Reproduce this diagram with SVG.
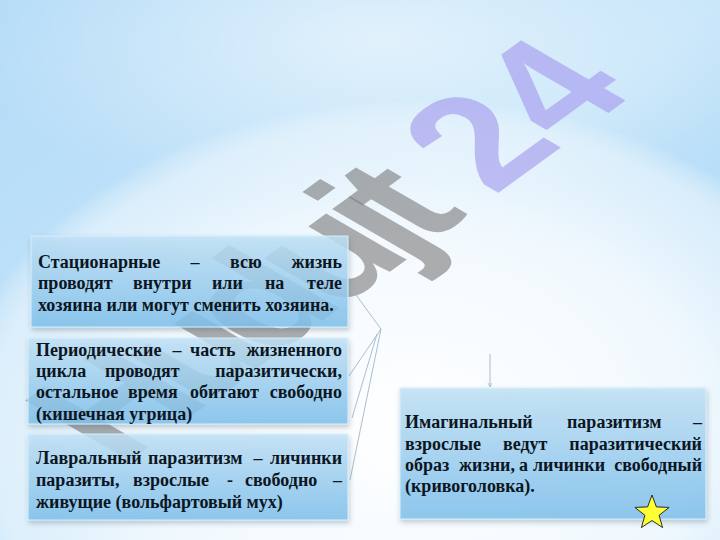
<svg xmlns="http://www.w3.org/2000/svg" width="720" height="540" viewBox="0 0 720 540">
<defs>
<linearGradient id="bg" x1="0" y1="0" x2="1" y2="1">
<stop offset="0" stop-color="#b3dbf7"/>
<stop offset="0.5" stop-color="#c4e4f9"/>
<stop offset="1" stop-color="#9fd2f5"/>
</linearGradient>
<radialGradient id="glow" cx="0.5" cy="0.5" r="0.5">
<stop offset="0" stop-color="#ffffff" stop-opacity="1"/>
<stop offset="0.6" stop-color="#f8fcff" stop-opacity="0.9"/>
<stop offset="0.92" stop-color="#eef7fd" stop-opacity="0.6"/>
<stop offset="1" stop-color="#ffffff" stop-opacity="0"/>
</radialGradient>
<radialGradient id="topglow" cx="0.5" cy="0.5" r="0.5">
<stop offset="0" stop-color="#ffffff" stop-opacity="0.55"/>
<stop offset="1" stop-color="#ffffff" stop-opacity="0"/>
</radialGradient>
<linearGradient id="box" x1="0" y1="0" x2="0" y2="1">
<stop offset="0" stop-color="#c2e3f8"/>
<stop offset="1" stop-color="#7fc2ee"/>
</linearGradient>
<filter id="sh" x="-10%" y="-10%" width="125%" height="130%">
<feDropShadow dx="1" dy="3" stdDeviation="2.5" flood-color="#3a5a70" flood-opacity="0.35"/>
</filter>
<marker id="ah" viewBox="0 0 6 6" refX="5" refY="3" markerWidth="6" markerHeight="6" orient="auto">
<path d="M0,0.5 L5,3 L0,5.5" fill="none" stroke="#9fb6c6" stroke-width="0.8"/>
</marker>
<style>
.bx{fill:url(#box);fill-opacity:0.82;stroke:#d6eefc;stroke-width:1;filter:url(#sh)}
.t{font-family:"Liberation Serif","Times New Roman",serif;font-weight:bold;font-size:18px;fill:#0b1622}
.e{text-anchor:end}
.m{text-anchor:middle}
.cn{fill:none;stroke:#9fb8c8;stroke-width:0.9}
.wm{font-family:"Liberation Sans",Arial,sans-serif;font-weight:bold;font-size:160px}
</style>
</defs>
<rect width="720" height="540" fill="url(#bg)"/>
<ellipse cx="380" cy="40" rx="420" ry="170" fill="url(#topglow)"/>
<ellipse cx="420" cy="430" rx="470" ry="330" fill="url(#glow)"/>

<g id="watermark" transform="translate(121,467) rotate(-36) skewX(24)">
<text class="wm" x="0" y="0"><tspan fill="#7c7c7c" fill-opacity="0.62" letter-spacing="-15">Hudujt</tspan><tspan fill="#a9a2f0" fill-opacity="0.7"> 24</tspan></text>
</g>

<g id="connectors">
<line class="cn" x1="348" y1="284" x2="381" y2="329"/>
<line class="cn" x1="381" y1="329" x2="349" y2="376"/>
<line class="cn" x1="377" y1="334" x2="352" y2="418"/>
<line class="cn" x1="381" y1="329" x2="350" y2="480"/>
<line class="cn" x1="490" y1="354" x2="490" y2="387" marker-end="url(#ah)"/>
</g>

<g id="node-stationary">
<rect class="bx" x="31" y="236" width="317" height="91"/>
<text class="t" y="268"><tspan x="38">Стационарные</tspan><tspan x="195" class="m">–</tspan><tspan x="230">всю</tspan><tspan x="342" class="e">жизнь</tspan></text>
<text class="t" y="289"><tspan x="38">проводят</tspan><tspan x="133">внутри</tspan><tspan x="212">или</tspan><tspan x="265">на</tspan><tspan x="342" class="e">теле</tspan></text>
<text class="t" x="38" y="311">хозяина или могут сменить хозяина.</text>
</g>

<g id="node-periodic">
<rect class="bx" x="28" y="338" width="320" height="86"/>
<text class="t" y="356"><tspan x="36">Периодические</tspan><tspan x="177" class="m">–</tspan><tspan x="190">часть</tspan><tspan x="342" class="e">жизненного</tspan></text>
<text class="t" y="377"><tspan x="36">цикла</tspan><tspan x="105">проводят</tspan><tspan x="342" class="e">паразитически,</tspan></text>
<text class="t" y="398"><tspan x="36">остальное</tspan><tspan x="128">время</tspan><tspan x="190">обитают</tspan><tspan x="342" class="e">свободно</tspan></text>
<text class="t" x="36" y="420">(кишечная угрица)</text>
</g>

<g id="node-larval">
<rect class="bx" x="28" y="434" width="320" height="86"/>
<text class="t" y="464"><tspan x="36">Лавральный</tspan><tspan x="148">паразитизм</tspan><tspan x="258" class="m">–</tspan><tspan x="342" class="e">личинки</tspan></text>
<text class="t" y="486"><tspan x="36">паразиты,</tspan><tspan x="133">взрослые</tspan><tspan x="230" class="m">-</tspan><tspan x="245">свободно</tspan><tspan x="342" class="e">–</tspan></text>
<text class="t" x="36" y="508">живущие (вольфартовый мух)</text>
</g>

<g id="node-imaginal">
<rect class="bx" x="400" y="388" width="306" height="131"/>
<text class="t" y="428"><tspan x="405">Имагинальный</tspan><tspan x="567">паразитизм</tspan><tspan x="702" class="e">–</tspan></text>
<text class="t" y="450"><tspan x="405">взрослые</tspan><tspan x="503">ведут</tspan><tspan x="702" class="e">паразитический</tspan></text>
<text class="t" y="471"><tspan x="405">образ</tspan><tspan x="459">жизни,</tspan><tspan x="519">а</tspan><tspan x="533">личинки</tspan><tspan x="702" class="e">свободный</tspan></text>
<text class="t" x="405" y="492">(кривоголовка).</text>
</g>

<g id="star">
<polygon points="652,495 656.4,506.9 669.1,507.4 659.1,515.3 662.6,527.6 652,520.5 641.4,527.6 644.9,515.3 634.9,507.4 647.6,506.9" fill="#ffff33" stroke="#2b2b2b" stroke-width="1"/>
</g>
</svg>
